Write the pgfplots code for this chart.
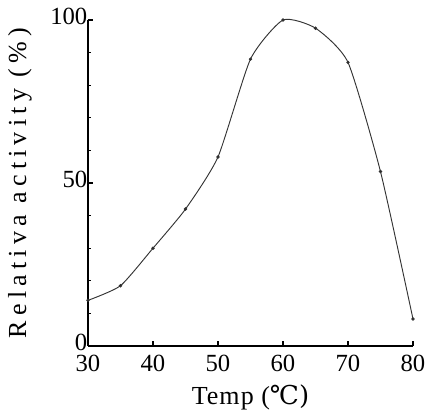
\documentclass[border=0pt]{standalone}
\usepackage{fontspec}
\setmainfont{Liberation Serif}
\newfontfamily\dvs{DejaVu Serif}
\usepackage{pgfplots}
\pgfplotsset{compat=1.18}
\begin{document}
\begin{tikzpicture}[x=1pt,y=1pt]
\begin{axis}[
  scale only axis,
  width=243.75pt, height=244.5pt,
  xmin=30, xmax=80, ymin=0, ymax=100,
  axis x line=bottom, axis y line=left,
  axis line style={-, line width=1pt},
  x axis line style={line width=0.9pt},
  y axis line style={line width=1.4pt},
  xtick={30,40,50,60,70,80},
  ytick={0,50,100},
  minor ytick={10,20,30,40,60,70,80,90},
  tick align=inside,
  major tick length=4pt, minor tick length=2.5pt,
  tick style={black, line width=0.8pt},
  /pgf/number format/assume math mode=true,
  ticklabel style={font=\fontsize{18.5}{20}\selectfont},
  xticklabel style={yshift=-3.5pt},
  yticklabel style={xshift=3pt, yshift=2.5pt},
  xlabel={\addfontfeature{LetterSpace=4}Temp (\dvs ℃)},
  ylabel={\addfontfeature{LetterSpace=20}Relativa activity (\%)},
  label style={font=\fontsize{19.5}{21}\selectfont},
  xlabel style={yshift=-3pt},
  ylabel style={yshift=7pt},
  clip=false,
]
\addplot[black!80, line width=0.7pt, smooth, tension=0.35, mark=*, mark size=0.9pt, mark options={fill=black}]
coordinates {
(30,14) (35,18.5) (40,30) (45,42) (50,58) (55,88) (60,100) (65,97.5) (70,87) (75,53.5) (80,8.3)
};
\end{axis}
\pgfresetboundingbox
\path (-66pt,-51.75pt) rectangle (256.5pt,259.5pt);
\end{tikzpicture}
\end{document}
